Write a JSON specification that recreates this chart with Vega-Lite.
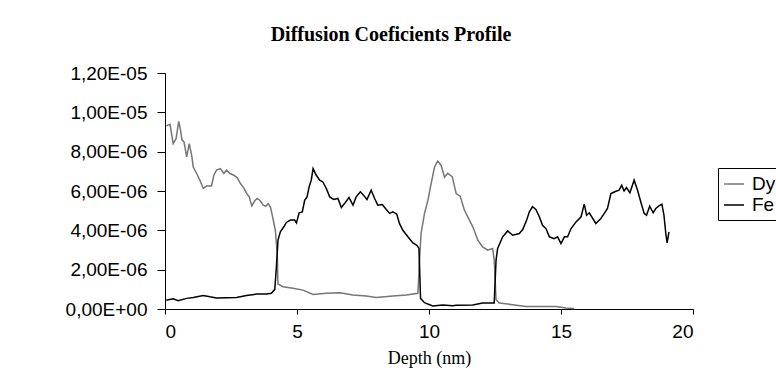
{
  "$schema": "https://vega.github.io/schema/vega-lite/v6.json",
  "width": 528,
  "height": 236,
  "autosize": {"type": "none"},
  "padding": {"left": 165, "top": 73, "right": 83, "bottom": 70},
  "background": "white",
  "title": {"text": "Diffusion Coeficients Profile", "font": "Liberation Serif", "fontSize": 20, "fontWeight": "bold", "color": "black", "anchor": "middle", "frame": "group", "dx": -38, "offset": 19},
  "datasets": {
    "dy": [
      [0.05,9.3],[0.09,9.34],[0.19,9.39],[0.31,8.41],[0.42,8.66],[0.52,9.54],[0.59,9.09],[0.64,8.6],[0.72,8.5],[0.82,7.73],[0.92,8.41],[1.02,7.73],[1.07,7.22],[1.2,6.89],[1.32,6.55],[1.45,6.13],[1.57,6.25],[1.76,6.25],[1.85,6.8],[1.95,7.06],[2.1,7.14],[2.23,6.89],[2.33,7.06],[2.46,6.89],[2.61,6.8],[2.73,6.68],[2.86,6.38],[2.99,6.13],[3.11,5.84],[3.19,5.7],[3.29,5.24],[3.4,5.5],[3.49,5.62],[3.59,5.53],[3.72,5.28],[3.82,5.22],[3.91,5.36],[4.0,5.16],[4.09,4.6],[4.18,4.0],[4.25,2.82],[4.28,1.27],[4.47,1.13],[4.85,1.05],[5.23,0.96],[5.61,0.74],[6.11,0.8],[6.62,0.83],[7.12,0.71],[7.62,0.66],[8.0,0.59],[8.63,0.66],[9.14,0.71],[9.58,0.8],[9.64,2.49],[9.7,3.84],[9.83,4.86],[9.96,5.53],[10.08,6.38],[10.21,7.22],[10.33,7.52],[10.46,7.3],[10.59,6.7],[10.71,6.9],[10.88,6.73],[11.03,5.87],[11.18,5.74],[11.34,5.03],[11.53,4.52],[11.66,4.18],[11.85,3.5],[12.03,3.16],[12.22,2.99],[12.41,3.08],[12.47,2.49],[12.54,0.47],[12.66,0.3],[13.17,0.22],[13.67,0.13],[14.18,0.13],[14.81,0.13],[15.19,0.05],[15.5,0.02]
    ],
    "fe": [
      [0.05,0.45],[0.09,0.46],[0.31,0.52],[0.5,0.42],[0.82,0.54],[1.07,0.59],[1.45,0.69],[1.7,0.62],[1.95,0.56],[2.33,0.57],[2.71,0.59],[3.09,0.69],[3.47,0.76],[3.84,0.76],[4.03,0.8],[4.16,1.0],[4.22,2.15],[4.28,3.5],[4.37,3.93],[4.5,4.18],[4.6,4.4],[4.75,4.52],[4.91,4.52],[4.98,4.38],[5.08,4.89],[5.2,4.94],[5.29,5.53],[5.38,5.7],[5.46,6.21],[5.54,6.55],[5.61,7.14],[5.73,6.8],[5.86,6.55],[5.98,6.46],[6.11,6.13],[6.24,5.7],[6.39,5.57],[6.55,5.62],[6.68,5.16],[6.8,5.36],[6.97,5.67],[7.12,5.28],[7.24,5.7],[7.4,5.96],[7.52,5.79],[7.65,5.57],[7.81,6.04],[7.94,5.62],[8.06,5.28],[8.23,5.31],[8.38,5.06],[8.51,4.86],[8.63,4.94],[8.78,4.82],[8.88,4.35],[9.01,4.0],[9.2,3.67],[9.39,3.36],[9.54,3.24],[9.62,3.08],[9.68,0.54],[9.83,0.32],[10.14,0.15],[10.52,0.2],[10.9,0.17],[11.03,0.19],[11.66,0.2],[12.03,0.3],[12.47,0.3],[12.54,2.49],[12.6,3.08],[12.79,3.67],[12.98,3.97],[13.17,3.75],[13.42,3.84],[13.55,4.04],[13.7,4.52],[13.8,4.94],[13.92,5.2],[14.05,5.06],[14.18,4.69],[14.3,4.26],[14.43,4.09],[14.56,3.67],[14.74,3.58],[14.87,3.67],[15.0,3.33],[15.13,3.67],[15.25,3.67],[15.38,4.09],[15.57,4.43],[15.76,4.69],[15.88,5.33],[15.97,4.77],[16.07,4.89],[16.32,4.35],[16.51,4.6],[16.64,4.86],[16.76,5.11],[16.89,5.87],[17.08,5.99],[17.2,6.04],[17.3,6.29],[17.39,6.0],[17.48,6.17],[17.61,5.91],[17.77,6.55],[17.9,6.04],[18.02,5.45],[18.15,4.86],[18.24,4.77],[18.36,5.23],[18.49,4.89],[18.59,5.11],[18.71,5.24],[18.82,5.33],[18.9,4.77],[18.97,3.84],[19.02,3.36],[19.09,3.92]
    ]
  },
  "layer": [
    {
      "data": {"name": "dy"},
      "transform": [{"calculate": "datum[0]", "as": "Depth"}, {"calculate": "datum[1] * 1e-6", "as": "D"}, {"calculate": "'Dy'", "as": "Element"}],
      "mark": {"type": "line", "strokeWidth": 1.5, "clip": false},
      "encoding": {
        "x": {"field": "Depth", "type": "quantitative"},
        "y": {"field": "D", "type": "quantitative"},
        "color": {"field": "Element", "type": "nominal"}
      }
    },
    {
      "data": {"name": "fe"},
      "transform": [{"calculate": "datum[0]", "as": "Depth"}, {"calculate": "datum[1] * 1e-6", "as": "D"}, {"calculate": "'Fe'", "as": "Element"}],
      "mark": {"type": "line", "strokeWidth": 1.5, "clip": false},
      "encoding": {
        "x": {"field": "Depth", "type": "quantitative"},
        "y": {"field": "D", "type": "quantitative"},
        "color": {"field": "Element", "type": "nominal"}
      }
    }
  ],
  "encoding": {
    "x": {"field": "Depth", "type": "quantitative", "scale": {"domain": [0, 20], "nice": false, "zero": false},
      "axis": {"values": [0, 5, 10, 15, 20], "title": "Depth (nm)", "grid": false, "tickSize": 5, "labelPadding": 8, "titleFont": "Liberation Serif", "titleFontSize": 18, "titleFontWeight": "normal", "titleColor": "black", "titlePadding": 8}},
    "y": {"field": "D", "type": "quantitative", "scale": {"domain": [0, 1.2e-5], "nice": false},
      "axis": {"values": [0, 2e-6, 4e-6, 6e-6, 8e-6, 1e-5, 1.2e-5], "title": null, "grid": false, "tickSize": 8, "labelPadding": 10,
        "labelExpr": "datum.value == 0 ? '0,00E+00' : replace(format(datum.value / pow(10, floor(log(datum.value) / LN10 + 1e-9)), '.2f'), '.', ',') + 'E-0' + (-floor(log(datum.value) / LN10 + 1e-9))"}},
    "color": {"field": "Element", "type": "nominal", "scale": {"domain": ["Dy", "Fe"], "range": ["#767676", "#000000"]},
      "legend": {"title": null, "orient": "none", "legendX": 553, "legendY": 95, "symbolType": "stroke", "symbolSize": 400, "symbolStrokeWidth": 1.5, "labelFont": "Liberation Sans", "labelFontSize": 19, "labelColor": "black", "strokeColor": "black", "fillColor": "white", "padding": 5, "rowPadding": 0, "labelOffset": 7}}
  },
  "config": {
    "view": {"stroke": null},
    "axis": {"domainColor": "black", "tickColor": "black", "labelColor": "black", "labelFont": "Liberation Sans", "labelFontSize": 19, "domainWidth": 1, "tickWidth": 1}
  }
}
